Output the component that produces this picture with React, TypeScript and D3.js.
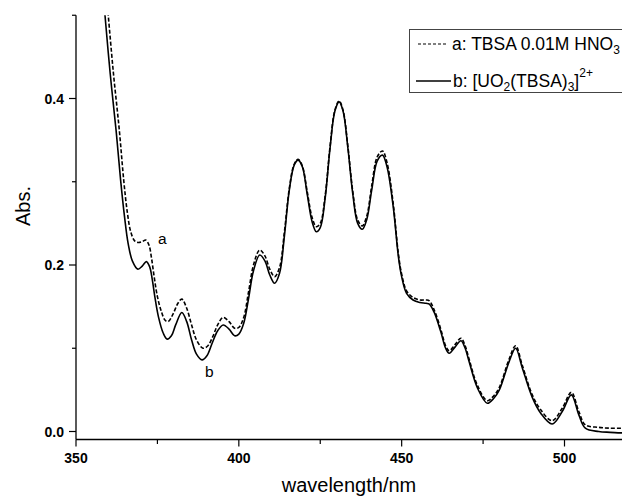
import React from "react";
import * as d3 from "d3";

const W = 622;
const H = 501;

// x ticks (nm) and y ticks (Abs.)
const xMajor = [350, 400, 450, 500];
const xMinor = [375, 425, 475];
const yMajor = [0.0, 0.2, 0.4];
const yMinor = [0.1, 0.3, 0.5];

// Series a: TBSA 0.01M HNO3 (dashed)
const waveA = [359.0, 359.9, 361.5, 363.3, 364.7, 365.8, 366.8, 368, 369.1, 370.3, 371.4, 372.4, 373.2, 374, 375, 376.3, 377.3, 378.3, 379.9, 381.3, 382.5, 384, 385.5, 387, 389, 390.5, 392, 393.5, 395.2, 397, 398.7, 400, 401.5, 403, 404.5, 406.4, 408, 409.5, 411, 412.5, 414, 415.5, 417, 418.2, 419.5, 421, 422.5, 423.8, 425, 426.5, 428, 429.5, 430.8, 432, 433.5, 435, 436.5, 437.9, 439.3, 440.8, 442.5, 444.1, 445.5, 447.4, 449, 450, 451.5, 453.5, 455.6, 457.5, 458.5, 460, 462, 463.5, 464.6, 466.5, 468.2, 469.5, 470.7, 473.3, 476.3, 478.3, 480, 483, 485, 487, 490.1, 492.7, 496.2, 499.3, 502.1, 504.4, 506.4, 510.5, 514, 520];
const absA = [0.54, 0.5, 0.43, 0.362, 0.3, 0.262, 0.24, 0.229, 0.227, 0.228, 0.23, 0.224, 0.208, 0.186, 0.162, 0.143, 0.134, 0.132, 0.142, 0.154, 0.159, 0.148, 0.128, 0.11, 0.1, 0.103, 0.114, 0.128, 0.137, 0.132, 0.124, 0.125, 0.137, 0.168, 0.2, 0.218, 0.211, 0.195, 0.186, 0.197, 0.24, 0.292, 0.321, 0.327, 0.319, 0.288, 0.257, 0.246, 0.25, 0.283, 0.342, 0.386, 0.397, 0.386, 0.342, 0.288, 0.254, 0.247, 0.259, 0.295, 0.33, 0.337, 0.323, 0.274, 0.213, 0.189, 0.169, 0.161, 0.158, 0.158, 0.157, 0.146, 0.123, 0.103, 0.097, 0.105, 0.112, 0.103, 0.087, 0.055, 0.037, 0.043, 0.053, 0.087, 0.103, 0.08, 0.044, 0.026, 0.013, 0.028, 0.047, 0.024, 0.008, 0.005, 0.004, 0.004];

// Series b: [UO2(TBSA)3]2+ (solid)
const waveB = [358, 358.9, 360.5, 362.3, 363.7, 364.9, 366, 367.3, 369, 370.4, 371.6, 372.6, 373.4, 374.2, 375.3, 376.8, 378, 379.3, 380.6, 382.5, 384, 385.5, 387, 388.7, 390.2, 391.8, 393.5, 395.2, 397, 398.7, 400, 401.5, 403, 404.5, 406.4, 408, 409.5, 411, 412.5, 414, 415.5, 417, 418.2, 419.5, 421, 422.5, 423.8, 425, 426.5, 428, 429.5, 430.8, 432, 433.5, 435, 436.5, 437.9, 439.3, 440.8, 442.5, 444.1, 445.5, 447.4, 449, 450, 451.5, 453.5, 455.6, 457.5, 458.5, 460, 462, 463.5, 464.6, 466.5, 468.2, 469.5, 470.7, 473.3, 476.3, 478.3, 480, 483, 485, 487, 490.1, 492.7, 496.2, 499.3, 502.1, 504.4, 506.4, 510.5, 514, 520];
const absB = [0.54, 0.5, 0.43, 0.362, 0.302, 0.258, 0.226, 0.205, 0.195, 0.199, 0.204, 0.198, 0.183, 0.162, 0.138, 0.118, 0.111, 0.115, 0.128, 0.143, 0.132, 0.11, 0.093, 0.086, 0.091, 0.106, 0.121, 0.128, 0.123, 0.115, 0.117, 0.13, 0.16, 0.193, 0.212, 0.205, 0.188, 0.178, 0.19, 0.235, 0.29, 0.32, 0.326, 0.318, 0.285, 0.252, 0.24, 0.245, 0.28, 0.34, 0.385, 0.396, 0.385, 0.34, 0.285, 0.25, 0.243, 0.255, 0.29, 0.325, 0.332, 0.318, 0.27, 0.21, 0.186, 0.166, 0.158, 0.155, 0.154, 0.153, 0.143, 0.12, 0.1, 0.094, 0.102, 0.109, 0.1, 0.084, 0.052, 0.034, 0.04, 0.05, 0.084, 0.1, 0.077, 0.041, 0.022, 0.009, 0.024, 0.044, 0.02, 0.004, 0.0, -0.001, -0.002];

const xLabel = "wavelength/nm";
const yLabel = "Abs.";

export default function App() {
  const x = d3.scaleLinear().domain([350, 500]).range([76, 564.5]);
  const y = d3.scaleLinear().domain([0, 0.4]).range([431.5, 98.5]);
  const axisY = 439.5;
  const axisX = 76;
  const top = y(0.5);

  const line = d3
    .line<[number, number]>()
    .x((d) => x(d[0]))
    .y((d) => y(d[1]))
    .curve(d3.curveCatmullRom.alpha(0.5));

  const dataA = waveA.map((w, i) => [w, absA[i]] as [number, number]);
  const dataB = waveB.map((w, i) => [w, absB[i]] as [number, number]);

  const font = "'Liberation Sans', Arial, sans-serif";

  return (
    <svg
      width={W}
      height={H}
      style={{ position: "absolute", left: 0, top: 0, background: "#fff" }}
      fontFamily={font}
    >
      <defs>
        <clipPath id="plot">
          <rect x={axisX} y={top} width={W - axisX} height={axisY - top} />
        </clipPath>
      </defs>
      <rect width={W} height={H} fill="#fff" />
      <g clipPath="url(#plot)">
        <path d={line(dataA) || ""} fill="none" stroke="#000" strokeWidth={1.6} strokeDasharray="4,2" />
        <path d={line(dataB) || ""} fill="none" stroke="#000" strokeWidth={1.6} />
      </g>
      {/* axes */}
      <line x1={axisX} y1={top} x2={axisX} y2={axisY} stroke="#000" strokeWidth={1.3} />
      <line x1={axisX} y1={axisY} x2={W} y2={axisY} stroke="#000" strokeWidth={1.3} />
      {yMajor.map((v) => (
        <g key={"ym" + v}>
          <line x1={axisX - 7} x2={axisX} y1={y(v)} y2={y(v)} stroke="#000" strokeWidth={1.2} />
          <text x={axisX - 12} y={y(v)} dy="0.36em" textAnchor="end" fontSize={14} fontWeight="bold">
            {v.toFixed(1)}
          </text>
        </g>
      ))}
      {yMinor.map((v) => (
        <line key={"yn" + v} x1={axisX - 4} x2={axisX} y1={y(v)} y2={y(v)} stroke="#000" strokeWidth={1.2} />
      ))}
      {xMajor.map((v) => (
        <g key={"xm" + v}>
          <line x1={x(v)} x2={x(v)} y1={axisY} y2={axisY + 7} stroke="#000" strokeWidth={1.2} />
          <text x={x(v)} y={axisY + 23} textAnchor="middle" fontSize={14} fontWeight="bold">
            {v}
          </text>
        </g>
      ))}
      {xMinor.map((v) => (
        <line key={"xn" + v} x1={x(v)} x2={x(v)} y1={axisY} y2={axisY + 4.5} stroke="#000" strokeWidth={1.2} />
      ))}
      <text x={349} y={492} textAnchor="middle" fontSize={20}>
        {xLabel}
      </text>
      <text transform="translate(30,206) rotate(-90)" textAnchor="middle" fontSize={20}>
        {yLabel}
      </text>
      {/* curve labels */}
      <text x={158} y={244} fontSize={15.5}>a</text>
      <text x={205} y={377} fontSize={15.5}>b</text>
      {/* legend */}
      <rect x={409.5} y={29.5} width={240} height={63} fill="#fff" stroke="#444" strokeWidth={1} />
      <line x1={418} x2={448} y1={44} y2={44} stroke="#000" strokeWidth={1.2} strokeDasharray="3,2" />
      <text x={452} y={49.5} fontSize={17.5}>
        a: TBSA 0.01M HNO<tspan fontSize={12} dy={4}>3</tspan>
      </text>
      <line x1={416} x2={451} y1={81} y2={81} stroke="#000" strokeWidth={1.4} />
      <text x={453} y={86.5} fontSize={17.5}>
        b: [UO<tspan fontSize={12} dy={4}>2</tspan>
        <tspan dy={-4}>(TBSA)</tspan>
        <tspan fontSize={12} dy={4}>3</tspan>
        <tspan dy={-4}>]</tspan>
        <tspan fontSize={12} dy={-10}>2+</tspan>
      </text>
    </svg>
  );
}
